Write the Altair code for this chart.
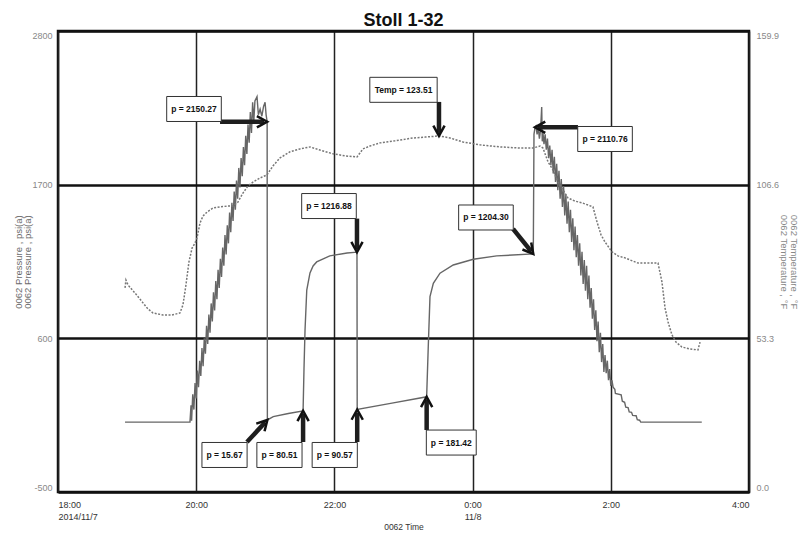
import math
import altair as alt
import pandas as pd

BASE = pd.Timestamp("2014-11-07 18:00:00")
CHART_TITLE = "Stoll 1-32"

# ---- 0062 Pressure, psi(a)  (minutes after 18:00, value) ----
idle_min = [58.2, 114.6]
idle_psi = [0, 0]

rise_min = [115.5, 116, 117, 118, 119, 120, 121, 122, 123, 124, 125, 126, 127, 128, 129, 130,
            131, 132, 133, 134, 135, 136, 137, 138, 139, 140, 141, 142, 143, 144, 145, 146, 147, 148, 149, 150,
            151, 152, 153, 154, 155, 156, 157, 158, 159, 160, 161, 162, 163, 164, 165, 166, 167, 168, 169, 170,
            171, 172.8, 174, 175.5, 177, 178.5, 179.8, 180.7, 181.6]
rise_psi = [120, 10, 200, 90, 280, 170, 370, 250, 440, 330, 530, 400, 600, 490, 690, 560,
            770, 640, 850, 720, 930, 800, 1010, 880, 1090, 960, 1170, 1040, 1250, 1120, 1340, 1200, 1410, 1280, 1500, 1360,
            1570, 1440, 1650, 1520, 1730, 1600, 1820, 1680, 1890, 1760, 1970, 1840, 2050, 1920, 2130, 2000, 2220, 2070, 2290, 2150,
            2300, 2330, 2200, 2240, 2190, 2260, 2290, 2200, 2150.27]

steps_min = [181.8, 186.9, 200, 212.8, 213.6, 214.5, 216.0, 218.8, 221.5, 224.6, 236, 251, 259.6,
             259.8, 290, 320.1, 321.5, 323.0, 325.9, 331.7, 343.2, 360.6, 380.9, 412.7, 413.3, 414.2]
steps_psi = [15.67, 40, 62, 80.51, 380, 660, 946, 1068, 1118, 1147, 1190, 1211, 1216.88,
             90.57, 136, 181.42, 540, 898, 994, 1066, 1125, 1166, 1190, 1204.30, 2060, 2110.76]

fall_min = [415, 416, 417, 418, 419, 420, 420.5] + list(range(421, 482)) + \
           [482, 483.5, 484, 489, 490, 492, 493, 495, 496, 498, 499, 502, 503, 505, 506, 559]
fall_psi = [2120, 2060, 2110, 2030, 2090, 2256, 2010,
            2080, 1990, 2060, 1950, 2030, 1890, 1980, 1840, 1950, 1780,
            1900, 1720, 1850, 1660, 1800, 1600, 1740, 1540, 1690, 1480,
            1630, 1420, 1580, 1360, 1520, 1290, 1460, 1230, 1400, 1180,
            1340, 1120, 1280, 1050, 1220, 990, 1160, 940, 1120, 880,
            1050, 820, 960, 740, 880, 660, 800, 580, 720, 500,
            640, 430, 560, 360, 480, 350, 440, 300, 380, 260,
            300,
            250, 235, 205, 195, 150, 142, 108, 104, 74, 70, 48, 46, 18, 14, 0, 0]

# ---- 0062 Temperature, °F ----
temp_min = [58.2, 59.0, 60.8, 66.9, 73.8, 78.1, 82.5, 91.2, 99.0, 105.9, 108.5, 111.1, 113.7, 116.4, 119.0,
            120.7, 123.3, 125.9, 129.4, 134.6, 140.7, 147.6, 152.0, 156.3, 160.6, 165.0, 169.3, 175.4, 181.5,
            186.7, 192.8, 201.5, 210.1, 218.8, 227.5, 238.8, 249.2, 259.6, 262.2, 264.8, 270.9, 279.6, 292.6,
            308.2, 318.7, 330.8, 340.4, 351.7, 366.4, 383.8, 401.2, 412.4, 418.5, 421.1, 425.5, 429.8, 434.2,
            438.5, 442.8, 448.9, 455.0, 464.5, 468.0, 471.5, 475.0, 481.0, 486.2, 492.3, 503.6, 514.0, 521.0,
            524.4, 527.1, 529.7, 533.1, 536.6, 541.8, 548.8, 555.7, 557.5]
temp_f = [70.8, 73.5, 71.8, 69.0, 65.6, 63.5, 62.1, 61.4, 61.4, 62.1, 64.9, 71.8, 79.8, 84.6, 86.4,
          88.1, 93.3, 95.7, 97.1, 98.5, 98.9, 99.2, 99.2, 100.6, 103.7, 106.2, 107.5, 108.9, 110.0,
          113.1, 115.9, 118.0, 119.0, 119.7, 118.6, 117.3, 116.6, 116.2, 117.6, 119.0, 120.0, 121.1, 121.8,
          122.8, 123.1, 123.51, 122.8, 121.4, 120.4, 119.7, 119.3, 119.3, 120.0, 119.3, 114.5, 111.7, 107.5,
          104.8, 102.0, 100.9, 100.3, 98.9, 93.7, 89.2, 86.7, 83.3, 81.9, 81.2, 79.4, 79.4, 79.4,
          72.9, 63.8, 59.0, 54.5, 52.0, 50.3, 49.6, 49.3, 52.0]

# ---- annotations (pressure) ----
p_ann_text = ["p = 2150.27", "p = 2110.76", "p = 1216.88", "p = 1204.30",
              "p = 15.67", "p = 80.51", "p = 90.57", "p = 181.42"]
p_ann_box_min = [118.1, 475.0, 235.3, 371.6, 144.6, 192.3, 240.3, 341.5]
p_ann_box_val = [2241.7, 2027, 1547, 1465, -235, -235, -235, -146]
p_ann_tail_min = [140.7, 451.5, 259.6, 395.1, 164.1, 212.8, 259.8, 320.1]
p_ann_tail_val = [2150.27, 2110.76, 1457, 1383, -142, -142, -142, -56]
p_ann_tip_min = [181.6, 414.2, 259.6, 412.7, 181.8, 212.8, 259.8, 320.1]
p_ann_tip_val = [2150.27, 2110.76, 1216.88, 1204.30, 15.67, 80.51, 90.57, 181.42]

# ---- annotation (temperature) ----
t_ann_text = ["Temp = 123.51"]
t_ann_box_min = [300.0]
t_ann_box_val = [139.5]
t_ann_tail_min = [330.8]
t_ann_tail_val = [135.3]
t_ann_tip_min = [330.8]
t_ann_tip_val = [123.51]

W, H = 691, 461
X_SPAN = 600.0
P_DOM = [-500, 2800]
T_DOM = [0, 159.9]
MIN_PER_PX = X_SPAN / W
PSI_PER_PX = (P_DOM[1] - P_DOM[0]) / H
F_PER_PX = (T_DOM[1] - T_DOM[0]) / H

FONT = "Liberation Sans"
CHAR_W = {"p": 0.611, " ": 0.278, "=": 0.584, ".": 0.278, "T": 0.611, "e": 0.556, "m": 0.889}
ANN_SIZE = 8.5


def iso(m):
    return (BASE + pd.Timedelta(minutes=float(m))).strftime("%Y-%m-%dT%H:%M:%S")


def text_width(s):
    return sum(CHAR_W.get(c, 0.556) for c in s) * ANN_SIZE


def ann_frame(texts, bm, bv, tm, tv, hm, hv, vpp):
    rows = []
    for i, s in enumerate(texts):
        hw = (text_width(s) + 9) / 2.0
        hh = 12.5
        dx = (hm[i] - tm[i]) / MIN_PER_PX
        dy = -(hv[i] - tv[i]) / vpp
        ln = math.hypot(dx, dy)
        ux, uy = dx / ln, dy / ln
        rows.append(dict(
            label=s,
            cx=iso(bm[i]), cy=bv[i],
            bx1=iso(bm[i] - hw * MIN_PER_PX), bx2=iso(bm[i] + hw * MIN_PER_PX),
            by1=bv[i] - hh * vpp, by2=bv[i] + hh * vpp,
            sx=iso(tm[i]), sy=tv[i],
            ex=iso(hm[i] - 3 * ux * MIN_PER_PX), ey=hv[i] + 3 * uy * vpp,
            hx=iso(hm[i]), hy=hv[i],
            ang=math.degrees(math.atan2(dx, -dy)) % 360,
        ))
    return pd.DataFrame(rows)


all_min = idle_min + rise_min + steps_min + fall_min
all_psi = idle_psi + rise_psi + steps_psi + fall_psi
assert len(all_min) == len(all_psi)
assert len(temp_min) == len(temp_f)

p_df = pd.DataFrame({"t": [iso(m) for m in all_min], "v": all_psi, "i": range(len(all_min))})
t_df = pd.DataFrame({"t": [iso(m) for m in temp_min], "v": temp_f, "i": range(len(temp_min))})
pa_df = ann_frame(p_ann_text, p_ann_box_min, p_ann_box_val, p_ann_tail_min, p_ann_tail_val,
                  p_ann_tip_min, p_ann_tip_val, PSI_PER_PX)
ta_df = ann_frame(t_ann_text, t_ann_box_min, t_ann_box_val, t_ann_tail_min, t_ann_tail_val,
                  t_ann_tip_min, t_ann_tip_val, F_PER_PX)

x_scale = alt.Scale(domain=[alt.DateTime(year=2014, month=11, date=7, hours=18),
                            alt.DateTime(year=2014, month=11, date=8, hours=4)])
x_ticks = [alt.DateTime(year=2014, month=11, date=7, hours=h) for h in (18, 20, 22)] + \
          [alt.DateTime(year=2014, month=11, date=8, hours=h) for h in (0, 2, 4)]
x_axis = alt.Axis(
    values=x_ticks, title="0062 Time",
    labelExpr=("hours(datum.value) == 18 ? [timeFormat(datum.value, '%-H:%M'), timeFormat(datum.value, '%Y/%-m/%-d')]"
               " : hours(datum.value) == 0 ? [timeFormat(datum.value, '%-H:%M'), timeFormat(datum.value, '%-m/%-d')]"
               " : timeFormat(datum.value, '%-H:%M')"),
    grid=True, gridColor="#222222", gridWidth=1.5, ticks=False, domain=False,
    labelFlush=True, labelFontSize=9, labelColor="#333333", labelPadding=8, labelLineHeight=12,
    labelFont=FONT, titleFont=FONT, titleFontSize=8.5, titleFontWeight="normal", titleColor="#333333",
    titleY=30, titleBaseline="top",
)

p_scale = alt.Scale(domain=P_DOM, nice=False, zero=False)
p_axis = alt.Axis(
    values=[-500, 600, 1700, 2800], labelExpr="'' + datum.value",
    title=["0062 Pressure , psi(a)", "0062 Pressure , psi(a)"],
    grid=True, gridColor="#111111", gridWidth=2.5, ticks=False, domain=False,
    labelFlush=True, labelFontSize=9, labelColor="#888888", labelPadding=6, labelFont=FONT,
    titleFont=FONT, titleFontSize=9.5, titleFontWeight="normal", titleColor="#6a6a6a",
    titleX=-40, titleY=H / 2, titleBaseline="middle", titleLineHeight=9,
)
t_scale = alt.Scale(domain=T_DOM, nice=False, zero=False)
t_axis = alt.Axis(
    orient="right", values=[0, 53.3, 106.6, 159.9], format=".1f",
    title=["0062 Temperature , °F", "0062 Temperature , °F"],
    grid=False, ticks=False, domain=False,
    labelFlush=True, labelFontSize=9, labelColor="#888888", labelPadding=7, labelFont=FONT,
    titleFont=FONT, titleFontSize=9.5, titleFontWeight="normal", titleColor="#888888",
    titleX=44, titleY=H / 2, titleBaseline="middle", titleLineHeight=10,
)


def X(f):
    return alt.X(f"{f}:T", scale=x_scale, axis=x_axis)


def YP(f):
    return alt.Y(f"{f}:Q", scale=p_scale, axis=p_axis)


def YT(f):
    return alt.Y(f"{f}:Q", scale=t_scale, axis=t_axis)


HEAD = "M-0.55,1L0,0L0.55,1"


def ann_layers(df, Y):
    base = alt.Chart(df)
    shaft = base.mark_rule(color="#1e1e1e", strokeWidth=4.5).encode(
        x=X("sx"), y=Y("sy"), x2="ex:T", y2="ey:Q")
    head = base.mark_point(shape=HEAD, filled=False, color="#111111", strokeWidth=2.5,
                           size=420, opacity=1).encode(
        x=X("hx"), y=Y("hy"), angle=alt.Angle("ang:Q", scale=None))
    box = base.mark_rect(fill="white", stroke="#333333", strokeWidth=1).encode(
        x=X("bx1"), x2="bx2:T", y=Y("by1"), y2="by2:Q")
    txt = base.mark_text(font=FONT, fontSize=ANN_SIZE, fontWeight="bold", color="#111111",
                         align="center", baseline="middle").encode(
        x=X("cx"), y=Y("cy"), text="label:N")
    return [shaft, head, box, txt]


p_line = alt.Chart(p_df).mark_line(color="#666666", strokeWidth=1.4).encode(
    x=X("t"), y=YP("v"), order="i:Q")
t_line = alt.Chart(t_df).mark_line(color="#777777", strokeWidth=1.5, strokeDash=[2, 1.5]).encode(
    x=X("t"), y=YT("v"), order="i:Q")

p_group = alt.layer(p_line, *ann_layers(pa_df, YP))
t_group = alt.layer(t_line, *ann_layers(ta_df, YT))

chart = alt.layer(p_group, t_group).resolve_scale(y="independent").properties(
    width=W, height=H,
    title=alt.TitleParams(CHART_TITLE, font=FONT, fontSize=18, fontWeight="bold", color="#111111",
                          anchor="middle", offset=3, dy=2),
    autosize=alt.AutoSizeParams(type="none"),
    padding={"left": 50, "top": 23, "right": 52, "bottom": 39},
).configure_view(stroke="#111111", strokeWidth=2.5)

chart.save("out.html", embed_options={"renderer": "svg", "actions": False})
